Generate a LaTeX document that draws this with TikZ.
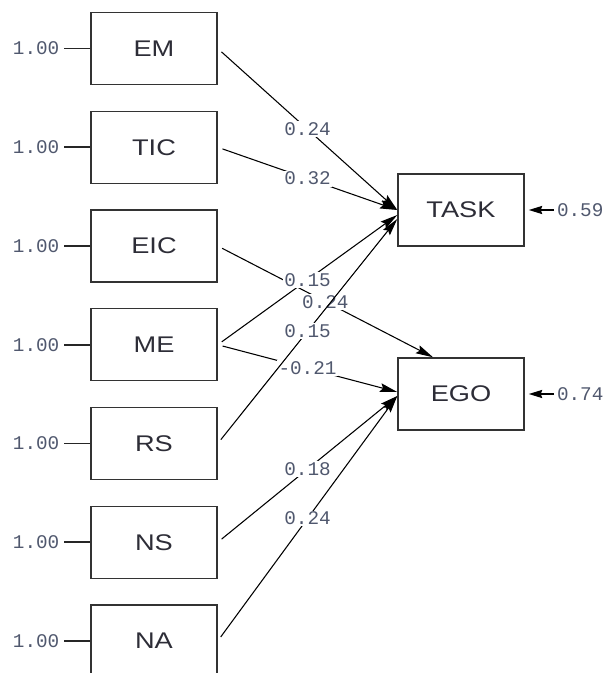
\documentclass[tikz,border=0pt]{standalone}
\usepackage{fontspec}
\usepackage{tikz}
\usetikzlibrary{arrows.meta,positioning,calc}
\newfontfamily\boxfont[FakeStretch=1.2]{Liberation Sans}
\newfontfamily\numfont{Liberation Mono}
\definecolor{txtcol}{RGB}{45,45,55}
\definecolor{numcol}{RGB}{80,88,110}
\tikzset{>={Stealth[length=13pt,width=6.5pt,inset=2pt]},
         var/.style={draw=black!80, line width=1.1pt, minimum width=94.5pt,
           minimum height=54pt, inner sep=0pt, text=txtcol,
           font=\boxfont\fontsize{17}{19}\selectfont},
         err/.style={inner xsep=3.5pt, inner ysep=1pt, text=numcol,
           font=\numfont\fontsize{14.5}{16}\selectfont},
         coef/.style={fill=white, inner sep=1pt, text=numcol,
           font=\numfont\fontsize{14.5}{16}\selectfont},
         coefline/.style={->, line width=0.8pt, shorten <=3.75pt},
         stub/.style={line width=1.2pt, black!85},
         resid/.style={-{Stealth[length=10pt,width=6pt,inset=1pt]}, line width=1.4pt}}

\begin{document}
\begin{tikzpicture}[x=0.75pt,y=-0.75pt]
  \useasboundingbox (0,0) rectangle (606,673);
  % exogenous variables, each with its fixed variance
  \foreach \name/\lab [count=\i] in {em/EM,tic/TIC,eic/EIC,me/ME,rs/RS,ns/NS,na/NA}{
    \node[var] (\name) at (154,{48.5+98.75*(\i-1)}) {\lab};
    \node[err, left=19.5pt of \name] (\name-e) {1.00};
    \draw[stub] (\name-e) -- (\name);
  }
  % endogenous variables and their residuals
  \node[var] (task) at (461,210) {TASK};
  \node[var] (ego) at (461,394) {EGO};
  \node[err, right=22pt of task, inner xsep=2pt] (task-e) {0.59};
  \node[err, right=22pt of ego, inner xsep=2pt] (ego-e) {0.74};
  \draw[resid] (task-e) -- ([xshift=3pt]task.east);
  \draw[resid] (ego-e) -- ([xshift=3pt]ego.east);
  % paths
  \draw[coefline] (em.east) -- node[coef] {0.24} (task.west);
  \draw[coefline] (tic.east) -- node[coef] {0.32} (task.west);
  \draw[coefline] (eic.east) -- node[coef] {0.24} ([xshift=-21pt]ego.north);
  \draw[coefline] (me.east) -- node[coef] {0.15} ([yshift=-3.75pt]task.west);
  \draw[coefline] (me.east) -- node[coef] {-0.21} ([yshift=1.5pt]ego.west);
  \draw[coefline] (rs.east) -- node[coef] {0.15} ([yshift=-6.75pt]task.west);
  \draw[coefline] (ns.east) -- node[coef] {0.18} ([yshift=-1.5pt]ego.west);
  \draw[coefline] (na.east) -- node[coef] {0.24} ([yshift=-1.5pt]ego.west);
\end{tikzpicture}
\end{document}
